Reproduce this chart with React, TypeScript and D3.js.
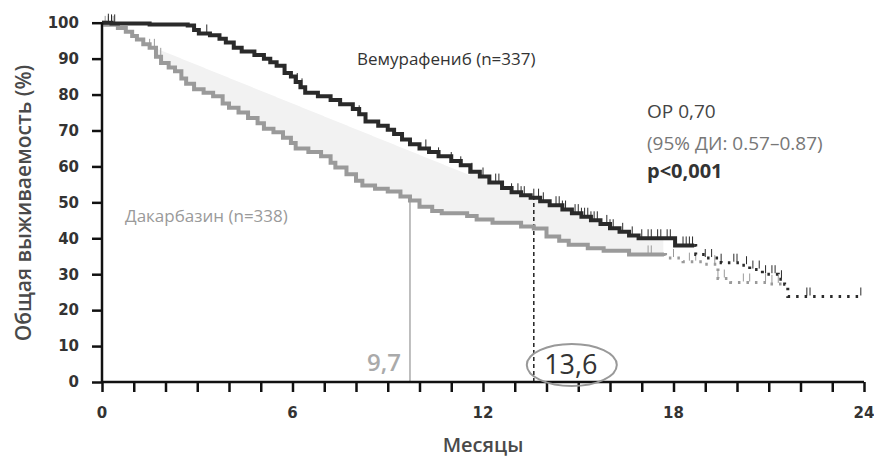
import React, { useEffect, useRef } from 'react'
import * as d3 from 'd3'

// Kaplan-Meier steps: [month, survival %]
const vemSolid = [
  [0, 100], [0.3, 99.8], [1.5, 99.5], [2.7, 99.2], [2.9, 98], [3.05, 97], [3.4, 96.5], [3.7, 95.5],
  [3.9, 94.5], [4.15, 93], [4.4, 92], [4.8, 91], [5.1, 90], [5.3, 89], [5.5, 88], [5.75, 86],
  [5.95, 85], [6.1, 83.5], [6.25, 82], [6.4, 80.5], [6.8, 79.5], [7.2, 78.5], [7.5, 77.3], [7.9, 76],
  [8.1, 74.5], [8.3, 72.5], [8.7, 71.3], [9.0, 70.2], [9.2, 69], [9.45, 67.5], [9.7, 66.2], [10.0, 65],
  [10.3, 64], [10.6, 62.8], [11.0, 61.5], [11.3, 60.3], [11.6, 58.5], [11.9, 57.2], [12.2, 55.5],
  [12.6, 54], [12.9, 52.8], [13.2, 52], [13.5, 51.3], [13.8, 50.3], [14.1, 49.2], [14.5, 48],
  [14.8, 47], [15.1, 46], [15.4, 45], [15.7, 44], [16.0, 42.8], [16.3, 41.8], [16.6, 40.8],
  [16.9, 40], [18.05, 38], [18.65, 38]
]
const vemTail = [
  [18.65, 38], [18.7, 35.5], [19.0, 34.5], [19.5, 33.2], [20.1, 32.5], [20.4, 31.3], [20.8, 30],
  [21.3, 28.6], [21.5, 27.2], [21.6, 23.8], [23.9, 23.8]
]
const dacSolid = [
  [0, 100], [0.1, 99.4], [0.5, 98.5], [0.75, 97.5], [0.95, 96.3], [1.1, 95.3], [1.3, 94], [1.5, 93],
  [1.7, 90.5], [1.86, 88.8], [2.1, 87.5], [2.3, 86.5], [2.5, 84.5], [2.65, 83], [2.9, 81.5],
  [3.2, 80.5], [3.5, 79.5], [3.8, 77.5], [4.0, 76.3], [4.3, 75], [4.6, 73.5], [4.9, 72], [5.1, 70.5],
  [5.4, 69.5], [5.7, 68], [5.95, 66.5], [6.1, 65], [6.5, 64], [6.9, 62.8], [7.2, 61], [7.35, 59.7],
  [7.7, 57.8], [8.0, 56], [8.2, 54.7], [8.6, 53.8], [9.0, 53], [9.4, 51.6], [9.7, 50.5], [10.0, 48.8],
  [10.4, 47.6], [10.7, 47], [11.5, 46.2], [11.8, 45.2], [12.3, 44.3], [13.2, 43.3], [13.6, 42.7],
  [14.0, 40.5], [14.4, 39.3], [14.7, 38.2], [15.3, 37.2], [15.8, 36.5], [16.6, 35.5], [17.7, 35.5]
]
const dacTail = [
  [17.7, 35.5], [17.75, 34.5], [18.3, 33.5], [18.9, 32.8], [19.4, 28.8], [19.8, 27.7], [21.0, 27.3],
  [21.5, 27.3]
]
const vemCensors = [0.2, 0.3, 0.4, 3.3, 6.15, 6.3, 8.1, 10.2, 10.6, 11.0, 11.3, 11.65, 12.0, 12.4, 12.5,
  12.9, 13.1, 13.2, 13.3, 13.6, 13.75, 13.9, 14.3, 14.4, 14.5, 14.6, 14.9, 15.0, 15.1, 15.2, 15.3, 15.4,
  15.5, 15.6, 15.9, 16.0, 16.1, 16.4, 16.7, 17.0, 17.2, 17.3, 17.5, 17.6, 17.8, 17.9, 18.3, 18.4, 18.5,
  18.6, 19.0, 19.2, 19.5, 19.9, 20.0, 20.3, 20.5, 20.7, 20.9, 21.1, 21.2, 21.4, 22.2, 22.3, 23.9]
const dacCensors = [0.1, 0.2, 0.35, 1.5, 1.65, 1.85, 17.2, 17.3, 18.0, 18.5, 18.7, 19.3, 19.4, 19.6,
  20.2, 20.4, 20.9, 21.1, 21.3]
// upper edge of the shaded band, before it meets the vemurafenib curve
const bandEdge = [[1.1, 95], [11.6, 57.5]]
const bandEnd = 17.7

const yTicks = d3.range(0, 101, 10)
const xLabels = [0, 6, 12, 18, 24]
const medianDac = 9.7
const medianVem = 13.6

const W = 874
const H = 460

const stepValue = (pts, t) => {
  let v = pts[0][1]
  for (const p of pts) if (p[0] <= t) v = p[1]
  return v
}

export default function App() {
  const ref = useRef(null)

  useEffect(() => {
    const svg = d3.select(ref.current)
    svg.selectAll('*').remove()
    const x = d3.scaleLinear().domain([0, 24]).range([102, 864])
    const y = d3.scaleLinear().domain([0, 100]).range([382, 22.7])
    const allVem = vemSolid.concat(vemTail.slice(1))
    const allDac = dacSolid.concat(dacTail.slice(1))

    // shaded band between the curves
    const edge = d3.scaleLinear().domain(bandEdge.map(d => d[0])).range(bandEdge.map(d => d[1]))
    const ts = d3.range(bandEdge[0][0], bandEnd, 0.02)
    const band = d3.area()
      .x(t => x(t))
      .y0(t => y(stepValue(allDac, t)))
      .y1(t => y(Math.max(stepValue(allDac, t), Math.min(stepValue(allVem, t), t < bandEdge[1][0] ? edge(t) : 999))))
    svg.append('path').attr('d', band(ts)).attr('fill', '#f2f2f2')

    const line = d3.line().x(d => x(d[0])).y(d => y(d[1])).curve(d3.curveStepAfter)

    // median lines
    svg.append('line')
      .attr('x1', x(medianDac)).attr('x2', x(medianDac))
      .attr('y1', y(0)).attr('y2', y(stepValue(allDac, medianDac)))
      .attr('stroke', '#aaa').attr('stroke-width', 1.5)
    svg.append('line')
      .attr('x1', x(medianVem)).attr('x2', x(medianVem))
      .attr('y1', y(0)).attr('y2', y(stepValue(allVem, medianVem)))
      .attr('stroke', '#222').attr('stroke-width', 1.5).attr('stroke-dasharray', '4,3')

    const drawCurve = (solid, tail, censors, all, color) => {
      svg.append('path').attr('d', line(solid)).attr('fill', 'none')
        .attr('stroke', color).attr('stroke-width', 4)
      svg.append('path').attr('d', line(tail)).attr('fill', 'none')
        .attr('stroke', color).attr('stroke-width', 3).attr('stroke-dasharray', '2.5,6')
      svg.append('g').selectAll('line').data(censors).join('line')
        .attr('x1', d => x(d)).attr('x2', d => x(d))
        .attr('y1', d => y(stepValue(all, d)) - 1)
        .attr('y2', d => y(stepValue(all, d)) - 9)
        .attr('stroke', color).attr('stroke-width', 1)
    }
    drawCurve(dacSolid, dacTail, dacCensors, allDac, '#9a9a9a')
    drawCurve(vemSolid, vemTail, vemCensors, allVem, '#2a2a2a')

    // axes
    const xAxis = d3.axisBottom(x).tickValues(d3.range(0, 25, 1)).tickSize(10).tickFormat(() => '')
    svg.append('g').attr('transform', `translate(0,${y(0)})`).call(xAxis)
      .call(g => g.selectAll('path,line').attr('stroke', '#111').attr('stroke-width', 2.5))
    svg.append('g').selectAll('text').data(xLabels).join('text')
      .attr('x', d => x(d)).attr('y', 418).attr('text-anchor', 'middle')
      .attr('font-family', 'DejaVu Sans').attr('font-weight', 'bold').attr('font-size', 15)
      .attr('fill', '#333').text(d => d)

    const yAxis = d3.axisLeft(y).tickValues(yTicks).tickSize(10).tickPadding(13)
    svg.append('g').attr('transform', `translate(${x(0)},0)`).call(yAxis)
      .call(g => g.selectAll('path,line').attr('stroke', '#111').attr('stroke-width', 2.5))
      .call(g => g.selectAll('text').attr('font-family', 'DejaVu Sans').attr('font-weight', 'bold')
        .attr('font-size', 15).attr('fill', '#333'))
    svg.selectAll('.domain').attr('d', null)
    svg.append('line').attr('x1', x(0)).attr('x2', x(24)).attr('y1', y(0)).attr('y2', y(0))
      .attr('stroke', '#111').attr('stroke-width', 2.5)
    svg.append('line').attr('x1', x(0)).attr('x2', x(0)).attr('y1', y(0)).attr('y2', y(100))
      .attr('stroke', '#111').attr('stroke-width', 2.5)

    const font = 'Open Sans'
    const txt = (s, tx, ty, size, fill, weight = 'normal', anchor = 'start') =>
      svg.append('text').attr('x', tx).attr('y', ty).attr('font-family', font).attr('font-size', size)
        .attr('fill', fill).attr('font-weight', weight).attr('text-anchor', anchor).text(s)

    svg.append('text').attr('transform', 'translate(31,203) rotate(-90)').attr('text-anchor', 'middle')
      .attr('font-family', font).attr('font-weight', 600).attr('font-size', 21).attr('fill', '#4a4a4a')
      .text('Общая выживаемость (%)')
    txt('Месяцы', 483, 452, 20, '#4a4a4a', 600, 'middle')

    txt('Вемурафениб (n=337)', 357, 65, 17, '#333')
    txt('Дакарбазин (n=338)', 125, 222, 17, '#9a9a9a')
    txt('ОР 0,70', 647, 118, 19, '#444')
    txt('(95% ДИ: 0.57–0.87)', 647, 150, 19, '#777')
    txt('p<0,001', 647, 178, 20, '#333', 'bold')

    txt(String(medianDac).replace('.', ','), x(medianDac) - 9, 371, 24, '#aaa', 600, 'end')
    txt(String(medianVem).replace('.', ','), x(medianVem) + 37, 374, 27, '#333', 'normal', 'middle')
    svg.append('ellipse').attr('cx', x(medianVem) + 38).attr('cy', 365).attr('rx', 45).attr('ry', 21)
      .attr('fill', 'none').attr('stroke', '#999').attr('stroke-width', 2)
  }, [])

  return (
    <div style={{ position: 'absolute', left: 0, top: 0, background: '#fff' }}>
      <svg ref={ref} width={W} height={H} viewBox={`0 0 ${W} ${H}`} />
    </div>
  )
}
